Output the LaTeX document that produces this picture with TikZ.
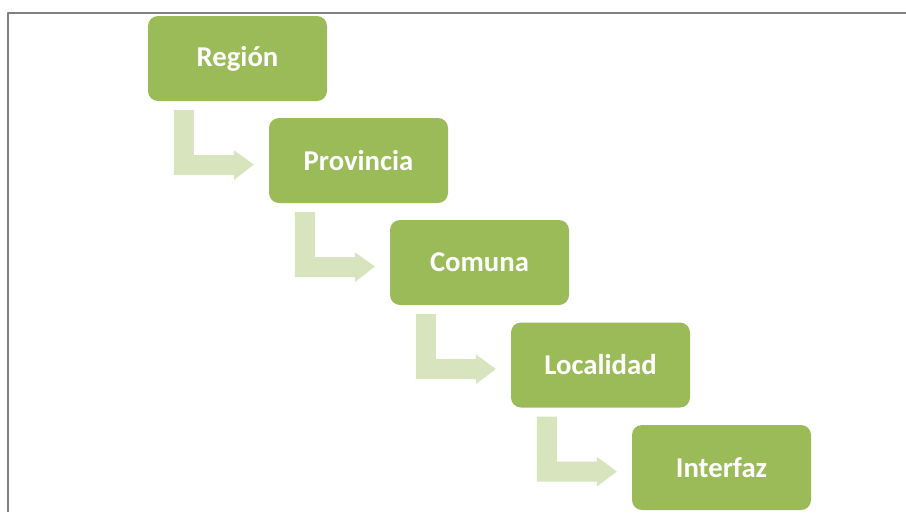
\documentclass[tikz,border=0pt]{standalone}
\usepackage{fontspec}
\setmainfont{Carlito}
\usetikzlibrary{calc}
\definecolor{boxgreen}{HTML}{9BBB59}
\definecolor{arrowgreen}{HTML}{D7E4BD}
\definecolor{framegray}{HTML}{808080}
\tikzset{
  level/.style={fill=boxgreen,rounded corners=10pt,minimum width=179pt,minimum height=85pt,inner sep=0pt,
    text=white,font=\bfseries\fontsize{28.7}{34}\selectfont},
  bent/.style={fill=arrowgreen}
}

\begin{document}
\begin{tikzpicture}[x=1pt,y=-1pt,line join=round]
\useasboundingbox (0,0) rectangle (906,512);
\draw[framegray,line width=1.5pt] (906,13)--(8,13)--(8,512);
\node[level] (reg) at (237.5,58.5) {Región};
\node[level] (prov) at (358.5,160.5) {Provincia};
\node[level] (com) at (479.5,262.5) {Comuna};
\node[level] (loc) at (600.5,365) {Localidad};
\node[level] (int) at (721.5,467.5) {Interfaz};
% bent arrows between the levels
\foreach \a/\b in {reg/prov,prov/com,com/loc,loc/int}
  \fill[bent] ($(\a.south west)+(26,9)$) -- ++(20,0) -- ++(0,45) -- ++(40,0) -- ++(0,-5)
    -- ($(\b.west)+(-15,4)$) -- ($(\a.south west)+(86,79)$) -- ++(0,-5) -- ++(-60,0) -- cycle;
\end{tikzpicture}
\end{document}
